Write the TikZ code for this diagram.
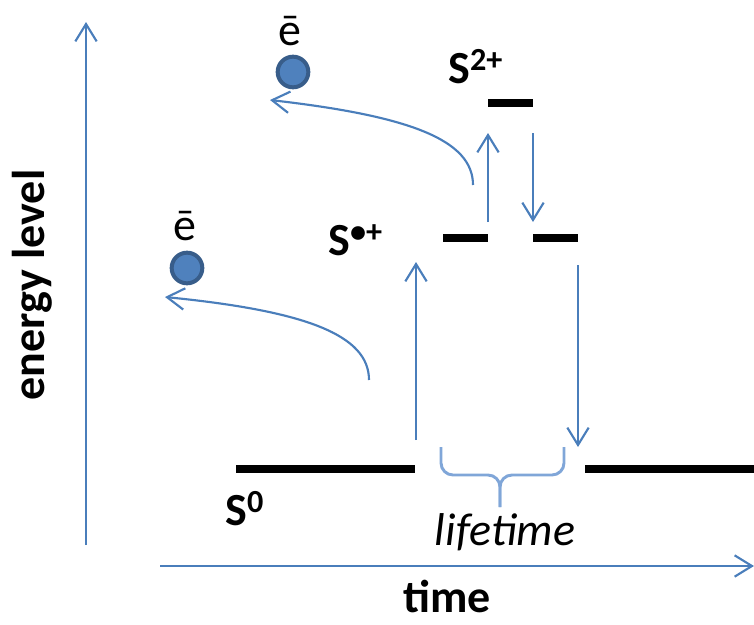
\documentclass[tikz,border=0pt]{standalone}
\usepackage{fontspec}
\setmainfont{Carlito}
\usepackage{tikz}
\usetikzlibrary{arrows.meta, positioning, calc}

\definecolor{axisblue}{RGB}{74,126,187}
\definecolor{braceblue}{RGB}{128,166,216}
\definecolor{elecfill}{RGB}{79,129,189}
\definecolor{elecrim}{RGB}{56,93,138}

\begin{document}
\begin{tikzpicture}[x=0.75pt, y=-0.75pt, font=\fontsize{34.5}{40}\selectfont,
    trans/.style={draw=axisblue, line width=1.6pt, -{Straight Barb[length=13pt, width=16pt]}},
    level/.style={draw=black, line width=5.4pt},
    electron/.style={circle, fill=elecfill, draw=elecrim, line width=3pt, minimum size=23pt, inner sep=0pt},
    state/.style={font=\fontsize{34.5}{40}\selectfont\bfseries, anchor=base west, inner sep=0pt}]
    \useasboundingbox (0,0) rectangle (754,625);

    % axes
    \coordinate (yfoot) at (86,545);
    \coordinate (ytip)  at (86,22);
    \coordinate (xfoot) at (160,566);
    \coordinate (xtip)  at (754,566);
    \draw[trans] (yfoot) -- (ytip);
    \draw[trans] (xfoot) -- (xtip);
    \node (elabel) [rotate=90, anchor=base, font=\fontsize{34.5}{40}\selectfont\bfseries] at (45,285) {energy level};
    \node (tlabel) [anchor=base, inner sep=0pt, font=\fontsize{34.5}{40}\selectfont\bfseries] at (447,612) {time};

    % levels
    \coordinate (g1w) at (236,469);
    \coordinate (g1e) at (415,469);
    \coordinate (g2w) at (585,469);
    \coordinate (g2e) at (754,469);
    \coordinate (r1w) at (443,238);
    \coordinate (r1e) at (488,238);
    \coordinate (r2w) at (533,238);
    \coordinate (r2e) at (578,238);
    \coordinate (dw)  at (488,103);
    \coordinate (de)  at (533,103);
    \draw[level] (g1w) -- (g1e);
    \draw[level] (g2w) -- (g2e);
    \draw[level] (r1w) -- (r1e);
    \draw[level] (r2w) -- (r2e);
    \draw[level] (dw) -- (de);

    \node (szero)   [state] at (225,525) {S\textsuperscript{0}};
    \node (scation) [state] at (328,255) {S\textsuperscript{•+}};
    \node (sdication) [state] at (448,83) {S\textsuperscript{2+}};

    % transitions
    \coordinate (ion1s) at (416,440);
    \coordinate (ion1e) at (416,262);
    \coordinate (ion2s) at (488,222);
    \coordinate (ion2e) at (488,133);
    \coordinate (back2s) at (533,133);
    \coordinate (back2e) at (533,222);
    \coordinate (back1s) at (578,265);
    \coordinate (back1e) at (578,447);
    \draw[trans] (ion1s) -- (ion1e);
    \draw[trans] (ion2s) -- (ion2e);
    \draw[trans] (back2s) -- (back2e);
    \draw[trans] (back1s) -- (back1e);

    % ejected electrons
    \node (eup)  [electron] at (293,72) {};
    \node (elow) [electron] at (187,268) {};
    \node (eupl)  [anchor=base, inner sep=0pt] at (290,45) {ē};
    \node (elowl) [anchor=base, inner sep=0pt] at (185,240) {ē};
    \coordinate (out2s) at (473,185);
    \coordinate (out2e) at (270,100);
    \coordinate (out1s) at (369,380);
    \coordinate (out1e) at (165,297);
    \draw[trans] (out2s) .. controls (473,140) and (410,116) .. (out2e);
    \draw[trans] (out1s) .. controls (369,335) and (306,311) .. (out1e);

    % lifetime brace
    \coordinate (brl) at (441,447);
    \coordinate (brr) at (564,447);
    \coordinate (brm) at (500,475);
    \coordinate (brtip) at (500,507);
    \draw[braceblue, line width=2.2pt, rounded corners=9pt] (brl) |- (brm) -- (brtip);
    \draw[braceblue, line width=2.2pt, rounded corners=9pt] (brr) |- (brm) -- (brtip);
    \node (life) [anchor=base, font=\fontsize{34.5}{40}\selectfont\itshape] at (505,545) {lifetime};
\end{tikzpicture}
\end{document}
